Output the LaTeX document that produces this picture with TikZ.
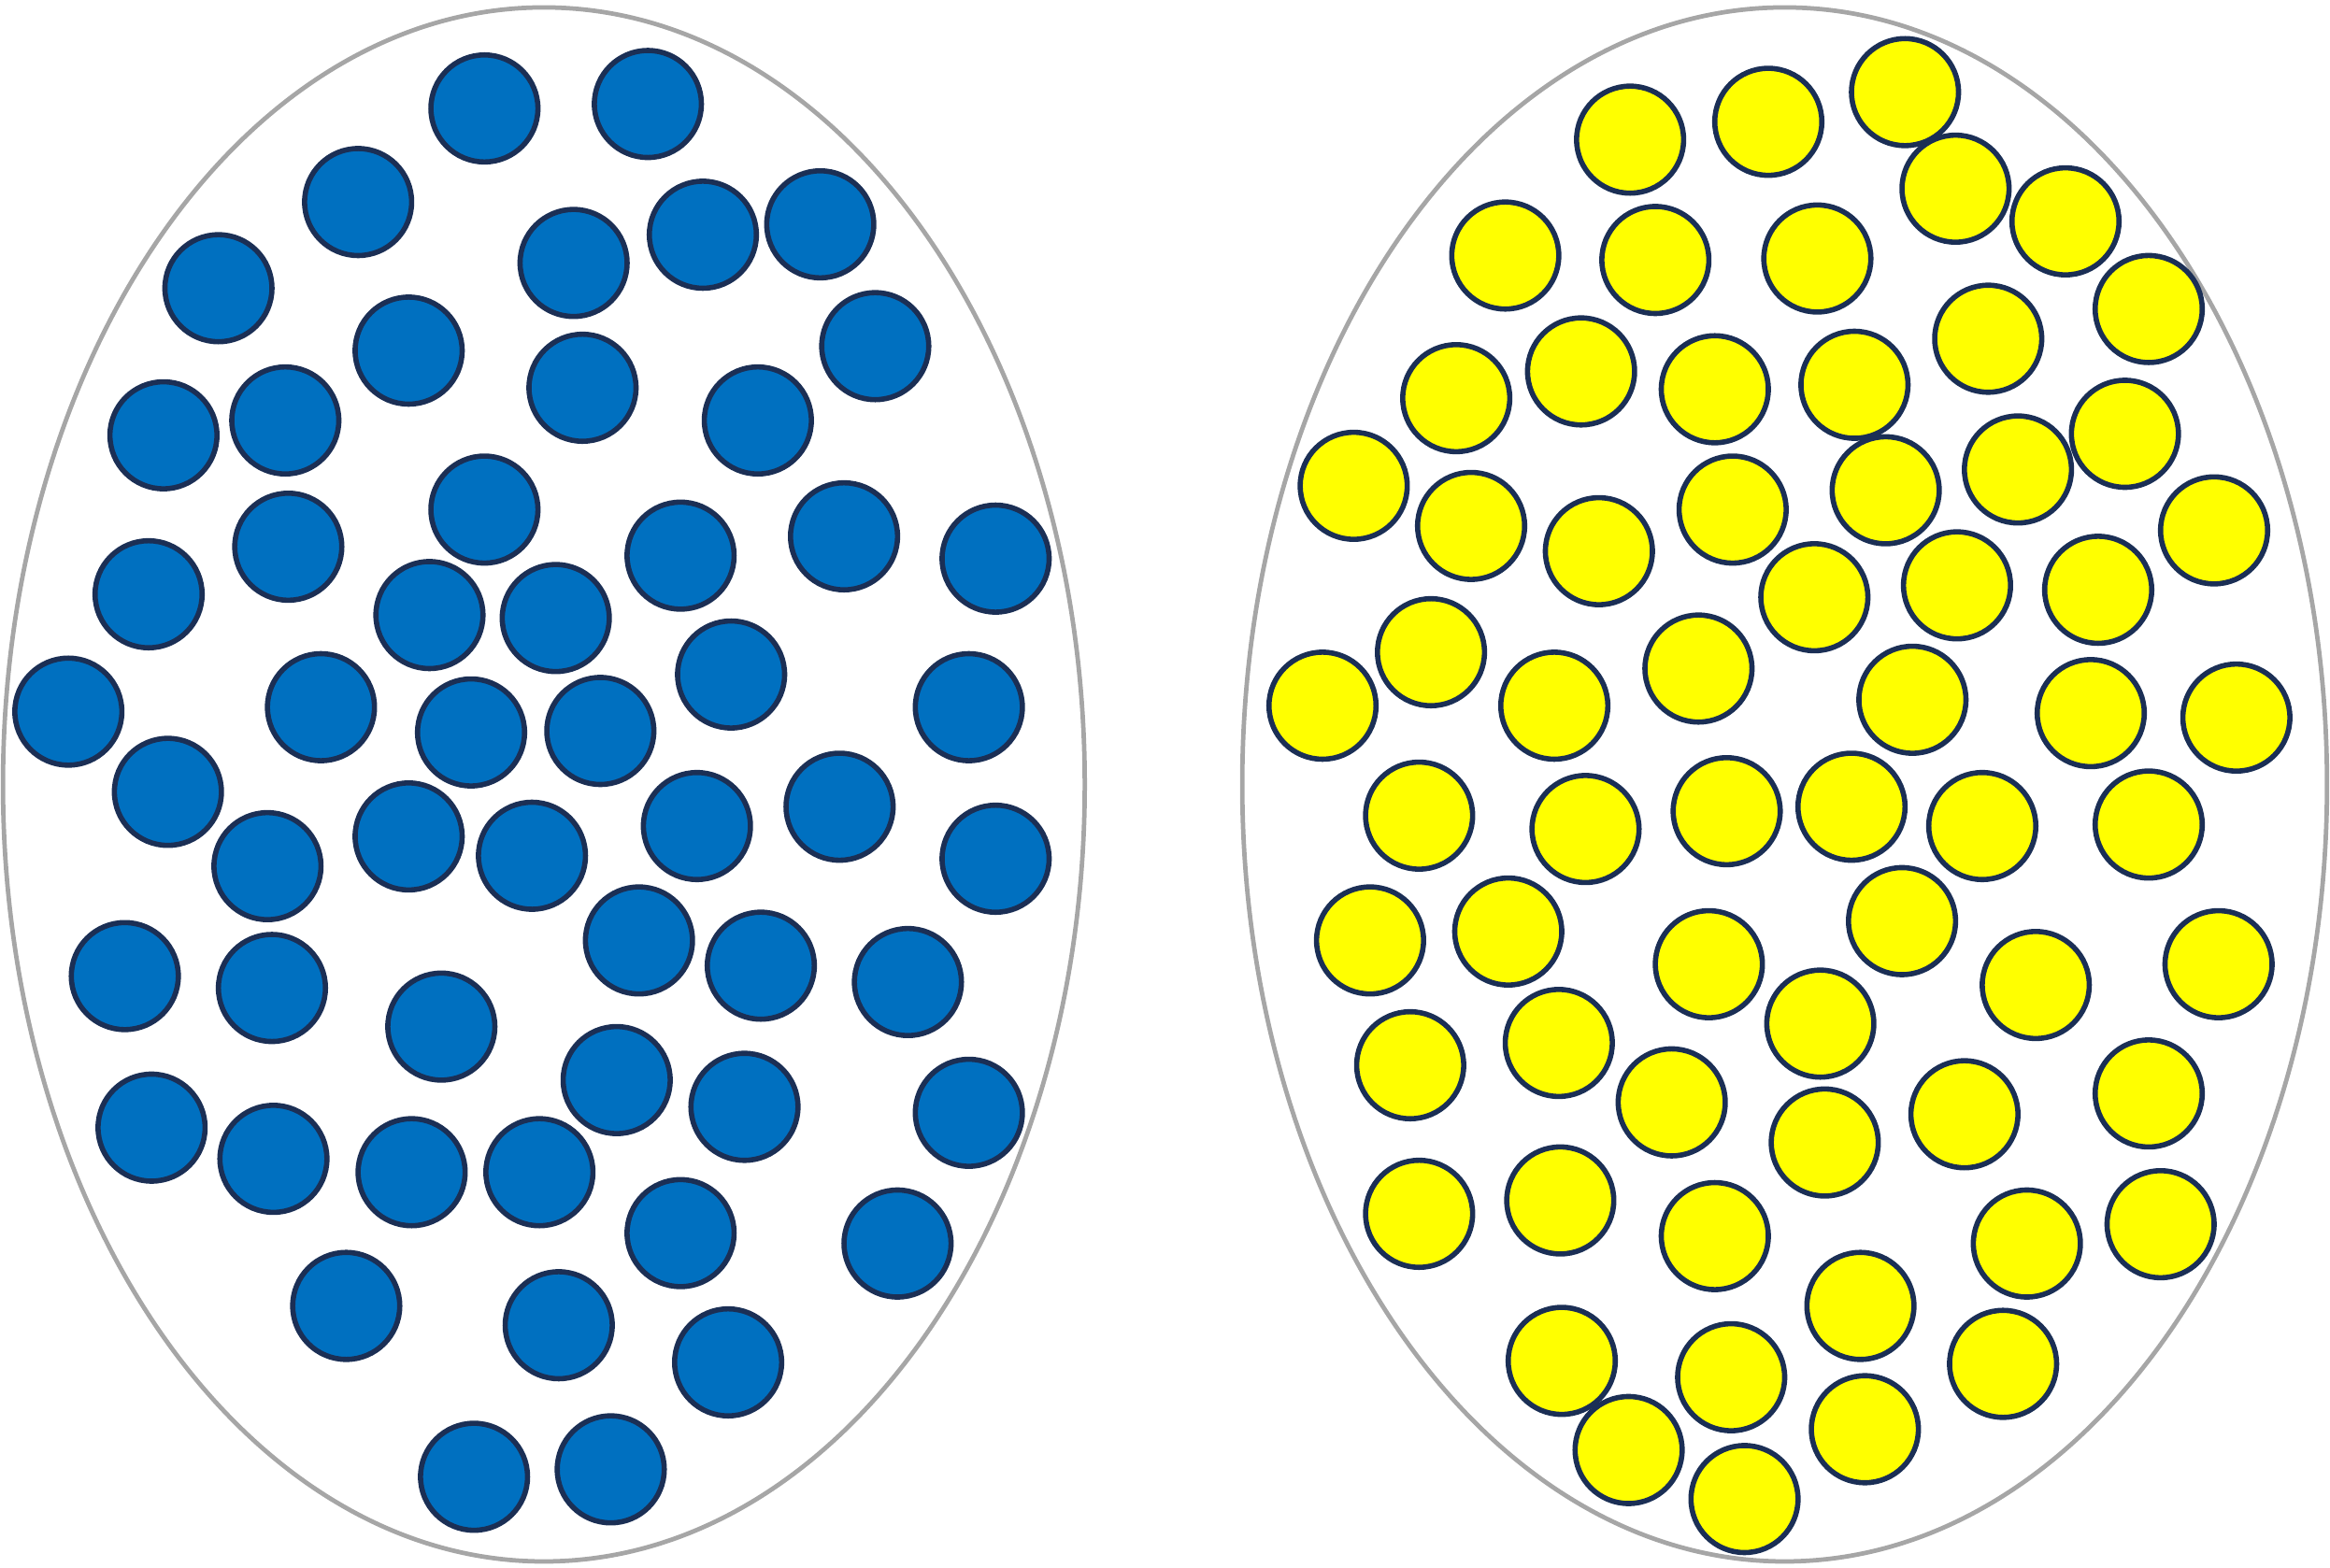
\documentclass[tikz,border=0pt]{standalone}
\definecolor{dotblue}{HTML}{0070C0}
\definecolor{dotyellow}{HTML}{FFFF00}
\definecolor{dotedge}{HTML}{1B2F55}
\definecolor{bagedge}{HTML}{A6A6A6}
\begin{document}
\begin{tikzpicture}[x=0.01cm,y=-0.01cm,
  bag/.style={draw=bagedge,line width=0.85pt},
  bluedot/.style={fill=dotblue,draw=dotedge,line width=1pt},
  yellowdot/.style={fill=dotyellow,draw=dotedge,line width=1pt}]
  \useasboundingbox (0,0) rectangle (1568,1055);
  % the two sets
  \draw[bag] (366,528) ellipse [x radius=364, y radius=523];
  \draw[bag] (1201,528) ellipse [x radius=365, y radius=523];
  % blue set
  \foreach \x/\y in {326/73, 436/70, 241/136, 386/177, 473/158, 552/151, 147/194, 275/236,
    589/233, 392/261, 110/293, 192/283, 510/283, 326/343, 194/368, 458/374, 568/361,
    670/376, 100/400, 289/414, 374/416, 46/479, 216/476, 492/454, 652/476, 317/493,
    404/492, 113/533, 180/583, 275/563, 358/576, 469/556, 565/543, 670/578, 84/657,
    183/665, 430/633, 512/650, 611/661, 297/691, 415/727, 501/745, 652/749, 102/759,
    184/780, 277/789, 363/789, 458/830, 604/837, 233/879, 376/892, 490/917, 319/994,
    411/989}
    \draw[bluedot] (\x,\y) circle [radius=0.36cm];
  % yellow set
  \foreach \x/\y in {1097/94, 1190/82, 1282/62, 1316/127, 1390/149, 1013/172, 1114/175,
    1223/174, 1446/208, 1338/228, 980/268, 1064/250, 1154/262, 1248/259, 1430/292,
    911/327, 1358/316, 990/354, 1076/371, 1166/343, 1269/330, 1490/357, 1221/402,
    1317/394, 1412/397, 963/439, 890/475, 1046/475, 1143/450, 1287/471, 1407/480,
    1505/483, 955/549, 1067/558, 1162/546, 1246/543, 1334/556, 1446/555, 922/633,
    1015/627, 1150/649, 1280/620, 1370/663, 1493/649, 1049/702, 949/717, 1225/689,
    1125/742, 1322/750, 1446/736, 1228/769, 955/817, 1050/808, 1154/832, 1364/837,
    1454/824, 1252/879, 1051/916, 1165/927, 1348/918, 1096/976, 1255/962, 1174/1009}
    \draw[yellowdot] (\x,\y) circle [radius=0.36cm];
\end{tikzpicture}
\end{document}
